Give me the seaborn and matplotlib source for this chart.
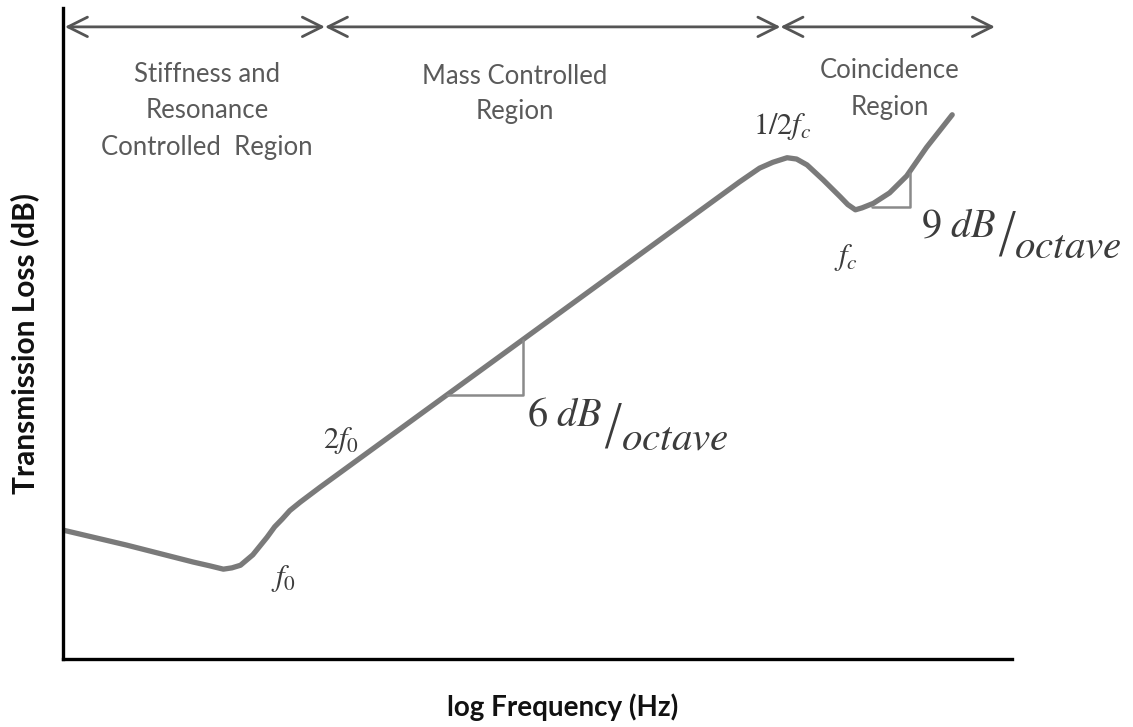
import matplotlib
matplotlib.use("Agg")
import matplotlib.pyplot as plt
import seaborn as sns
import pandas as pd

# schematic transmission-loss curve
# x: log frequency (arbitrary units 0-10), y: transmission loss (arbitrary dB 0-100)
log_freq = [0.00, 0.67, 1.37, 1.55, 1.69, 1.78, 1.87, 2.00, 2.15, 2.23, 2.31, 2.39, 2.50, 2.71,
            7.13, 7.34, 7.48, 7.63, 7.73, 7.84, 8.01, 8.19, 8.27, 8.35, 8.42,
            8.54, 8.71, 8.89, 9.10, 9.37]
trans_loss = [19.8, 17.5, 14.9, 14.3, 13.8, 14.0, 14.4, 16.0, 18.7, 20.3, 21.5, 22.8, 24.1, 26.4,
              73.3, 75.4, 76.3, 77.0, 76.8, 75.9, 73.6, 71.0, 69.8, 69.0, 69.3,
              70.0, 71.6, 74.2, 78.6, 83.6]

# slope triangles (x, y corners)
tri_mass_x = [4.05, 4.85, 4.85]
tri_mass_y = [40.6, 40.6, 49.0]
tri_coin_x = [8.52, 8.93, 8.93]
tri_coin_y = [69.4, 69.4, 74.6]

# region boundaries for the arrows at the top
region_edges = [0.02, 2.76, 7.56, 9.82]
arrow_level = 97.1
region_labels = ["Stiffness and\nResonance\nControlled  Region",
                 "Mass Controlled\nRegion",
                 "Coincidence\nRegion"]

W, H = 1133, 727


def px(x, y):
    return x / W, 1 - y / H


def main():
    sns.set_theme(style="white")
    plt.rcParams["mathtext.fontset"] = "stix"
    plt.rcParams["font.family"] = ["Lato", "DejaVu Sans"]

    fig = plt.figure(figsize=(W / 100, H / 100), dpi=100)
    ax = fig.add_axes([63 / W, 1 - 659 / H, (1012 - 63) / W, (659 - 8) / H])

    df = pd.DataFrame({"log_freq": log_freq, "tl": trans_loss})
    sns.lineplot(data=df, x="log_freq", y="tl", ax=ax, color="#7a7a7a",
                 linewidth=3.8, sort=False, solid_capstyle="round",
                 solid_joinstyle="round")

    ax.plot(tri_mass_x, tri_mass_y, color="#8a8a8a", lw=1.8)
    ax.plot(tri_coin_x, tri_coin_y, color="#8a8a8a", lw=1.8)

    for a, b in zip(region_edges[:-1], region_edges[1:]):
        ax.annotate("", xy=(b, arrow_level), xytext=(a, arrow_level),
                    arrowprops=dict(arrowstyle="<->,head_length=0.7,head_width=0.35",
                                    color="#555555", lw=2, mutation_scale=20,
                                    shrinkA=0, shrinkB=0),
                    annotation_clip=False)

    ax.set_xlim(0, 10)
    ax.set_ylim(0, 100)
    ax.set_xticks([])
    ax.set_yticks([])
    ax.set_xlabel("")
    ax.set_ylabel("")
    for side in ["top", "right"]:
        ax.spines[side].set_visible(False)
    for side in ["left", "bottom"]:
        ax.spines[side].set_color("black")
        ax.spines[side].set_linewidth(2.4)

    # region texts
    txt_color = "#5a5a5a"
    centers = [(207, 111), (515, 94), (890, 89)]
    for label, (cx, cy) in zip(region_labels, centers):
        fig.text(*px(cx, cy), label, ha="center", va="center", fontsize=18.5,
                 color=txt_color, linespacing=1.55)

    # math annotations
    m_color = "#3c3c3c"
    fig.text(*px(782, 127), r"$1/2f_c$", ha="center", va="center", fontsize=22, color=m_color)
    fig.text(*px(846, 257), r"$f_c$", ha="center", va="center", fontsize=22, color=m_color)
    fig.text(*px(341, 441), r"$2f_0$", ha="center", va="center", fontsize=22, color=m_color)
    fig.text(*px(284, 578), r"$f_0$", ha="center", va="center", fontsize=22, color=m_color)

    fig.text(*px(527, 425), r"$6\ dB$", ha="left", va="baseline", fontsize=29, color=m_color)
    fig.text(*px(603, 443), "/", ha="left", va="baseline", fontsize=40, color=m_color,
             family="DejaVu Sans", fontweight="light")
    fig.text(*px(621, 450), r"$octave$", ha="left", va="baseline", fontsize=29.5, color=m_color)

    fig.text(*px(921, 237), r"$9\ dB$", ha="left", va="baseline", fontsize=29, color=m_color)
    fig.text(*px(997, 251), "/", ha="left", va="baseline", fontsize=40, color=m_color,
             family="DejaVu Sans", fontweight="light")
    fig.text(*px(1014, 258), r"$octave$", ha="left", va="baseline", fontsize=29.5, color=m_color)

    # axis labels
    fig.text(*px(25, 344), "Transmission Loss (dB)", rotation=90, ha="center", va="center",
             fontsize=21.5, fontweight="bold", color="#111111")
    fig.text(*px(563, 707), "log Frequency (Hz)", ha="center", va="center",
             fontsize=20, fontweight="bold", color="#111111")

    fig.savefig("out.png", dpi=100, facecolor="white")


if __name__ == "__main__":
    main()
